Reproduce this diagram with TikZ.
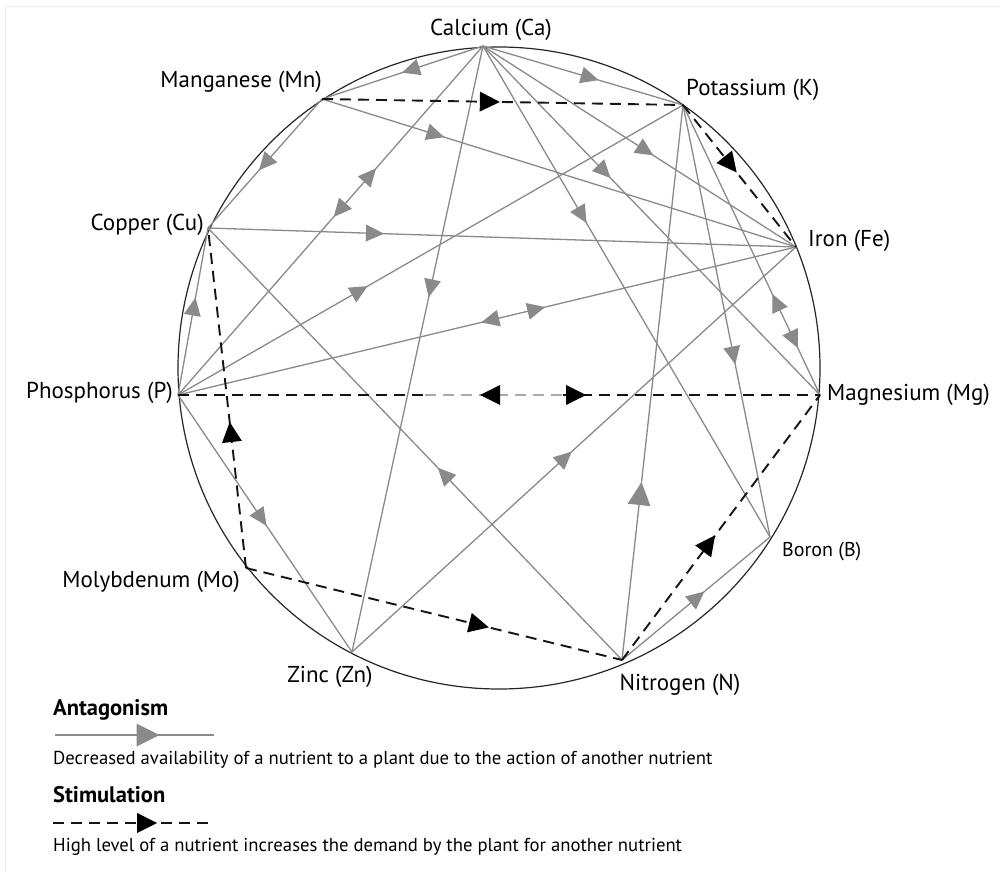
\documentclass[tikz,border=0pt]{standalone}
\usepackage{fontspec}
\setmainfont{PT Sans}
\usetikzlibrary{decorations.markings,calc}
\definecolor{antgray}{HTML}{8A8A8A}
\definecolor{lightdash}{HTML}{AAAAAA}
\definecolor{framegray}{HTML}{EBEBEB}
\begin{document}
\begin{tikzpicture}[x=1pt,y=-1pt,
  ant/.style={draw=antgray, line width=1.3pt},
  stim/.style={draw=black!92, line width=1.9pt, dash pattern=on 11pt off 7pt},
  stimlight/.style={draw=lightdash, line width=1.6pt, dash pattern=on 11pt off 7pt},
  fw/.style={postaction={decorate,decoration={markings,mark=at position #1 with {\fill[antgray] (9pt,0pt)--(-9pt,8.5pt)--(-9pt,-8.5pt)--cycle;}}}},
  bw/.style={postaction={decorate,decoration={markings,mark=at position #1 with {\fill[antgray] (-9pt,0pt)--(9pt,8.5pt)--(9pt,-8.5pt)--cycle;}}}},
  bigfw/.style={postaction={decorate,decoration={markings,mark=at position #1 with {\fill[antgray] (11.5pt,0pt)--(-11.5pt,11.5pt)--(-11.5pt,-11.5pt)--cycle;}}}},
  sfw/.style={postaction={decorate,decoration={markings,mark=at position #1 with {\fill[black] (10pt,0pt)--(-10pt,10pt)--(-10pt,-10pt)--cycle;}}}},
  sbw/.style={postaction={decorate,decoration={markings,mark=at position #1 with {\fill[black] (-10pt,0pt)--(10pt,10pt)--(10pt,-10pt)--cycle;}}}},
  lab/.style={font=\fontsize{23}{25}\selectfont, inner sep=0pt},
  leg/.style={font=\fontsize{18.7}{20}\selectfont, inner sep=0pt, anchor=west},
  legb/.style={font=\bfseries\fontsize{22.5}{24}\selectfont, inner sep=0pt, anchor=west}
]
\useasboundingbox (0,0) rectangle (1000,872);
\fill[white] (0,0) rectangle (1000,872);
\draw[framegray, line width=1pt] (5,872) -- (5,7) -- (1000,7);

% nutrient points on the circle
\coordinate (Ca) at (483,46);
\coordinate (Mn) at (322,99);
\coordinate (K)  at (683,105);
\coordinate (Cu) at (208,228);
\coordinate (Fe) at (796,247);
\coordinate (P)  at (178,395);
\coordinate (Mg) at (820,395);
\coordinate (B)  at (770,537);
\coordinate (Mo) at (246,568);
\coordinate (Zn) at (352,652);
\coordinate (N)  at (622,660);
\coordinate (O)  at (499,368);

\draw[black!85, line width=1.2pt] (O) circle[radius=321];

% antagonism
\draw[ant, fw=0.45] (Ca) -- (Mn);
\draw[ant, fw=0.535] (Ca) -- (K);
\draw[ant, fw=0.52] (Ca) -- (Fe);
\draw[ant, fw=0.36] (Ca) -- (Mg);
\draw[ant, fw=0.345] (Ca) -- (B);
\draw[ant, fw=0.40] (Ca) -- (Zn);
\draw[ant, bw=0.53, fw=0.63] (P) -- (Ca);
\draw[ant, fw=0.5] (Mn) -- (Cu);
\draw[ant, fw=0.24] (Mn) -- (Fe);
\draw[ant, fw=0.284] (Cu) -- (Fe);
\draw[ant, fw=0.43] (N) -- (Cu);
\draw[ant, fw=0.53] (P) -- (Cu);
\draw[ant, fw=0.36] (P) -- (K);
\draw[ant, bw=0.505, fw=0.58] (P) -- (Fe);
\draw[ant, fw=0.48] (P) -- (Zn);
\draw[ant, fw=0.48] (Zn) -- (Fe);
\draw[ant, bw=0.68, fw=0.81] (K) -- (Mg);
\draw[ant, fw=0.58] (K) -- (B);
\draw[ant, bigfw=0.30] (N) -- (K);
\draw[ant, fw=0.51] (N) -- (B);

% stimulation
\draw[stim, sfw=0.465] (Mn) -- (K);
\draw[stim, sfw=0.42] (K) -- (Fe);
\coordinate (PMa) at ($(P)!0.385!(Mg)$);
\coordinate (PMb) at ($(P)!0.60!(Mg)$);
\draw[stim] (P) -- (PMa);
\draw[stimlight] (PMa) -- (PMb);
\draw[stim] (PMb) -- (Mg);
\path[sbw=0.486, sfw=0.62] (P) -- (Mg);
\draw[stim, sfw=0.40] (Mo) -- (Cu);
\draw[stim, sfw=0.62] (Mo) -- (N);
\draw[stim, sfw=0.44] (N) -- (Mg);

% labels
\node[lab] (lCa) at (491,30) {Calcium (Ca)};
\node[lab, anchor=east] (lMn) at (322,82) {Manganese (Mn)};
\node[lab, anchor=west] (lK) at (686,90) {Potassium (K)};
\node[lab, anchor=east] (lCu) at (204,225) {Copper (Cu)};
\node[lab, anchor=west] (lFe) at (808,241) {Iron (Fe)};
\node[lab, anchor=east] (lP) at (173,393) {Phosphorus (P)};
\node[lab, anchor=west] (lMg) at (827,395) {Magnesium (Mg)};
\node[lab, anchor=west, font=\fontsize{20}{22}\selectfont] (lB) at (782,552) {Boron (B)};
\node[lab, anchor=east] (lMo) at (240,582) {Molybdenum (Mo)};
\node[lab] (lZn) at (330,677) {Zinc (Zn)};
\node[lab] (lN) at (680,685) {Nitrogen (N)};

% legend
\node[legb] (tA) at (53,710) {Antagonism};
\coordinate (la1) at (55,735);
\coordinate (la2) at (214,735);
\draw[ant, bigfw=0.585] (la1) -- (la2);
\node[leg] (dA) at (53,760) {Decreased availability of a nutrient to a plant due to the action of another nutrient};
\node[legb] (tS) at (53,795) {Stimulation};
\coordinate (ls1) at (53,823);
\coordinate (ls2) at (210,823);
\draw[stim, sfw=0.6] (ls1) -- (ls2);
\node[leg] (dS) at (53,847) {High level of a nutrient increases the demand by the plant for another nutrient};
\end{tikzpicture}
\end{document}
